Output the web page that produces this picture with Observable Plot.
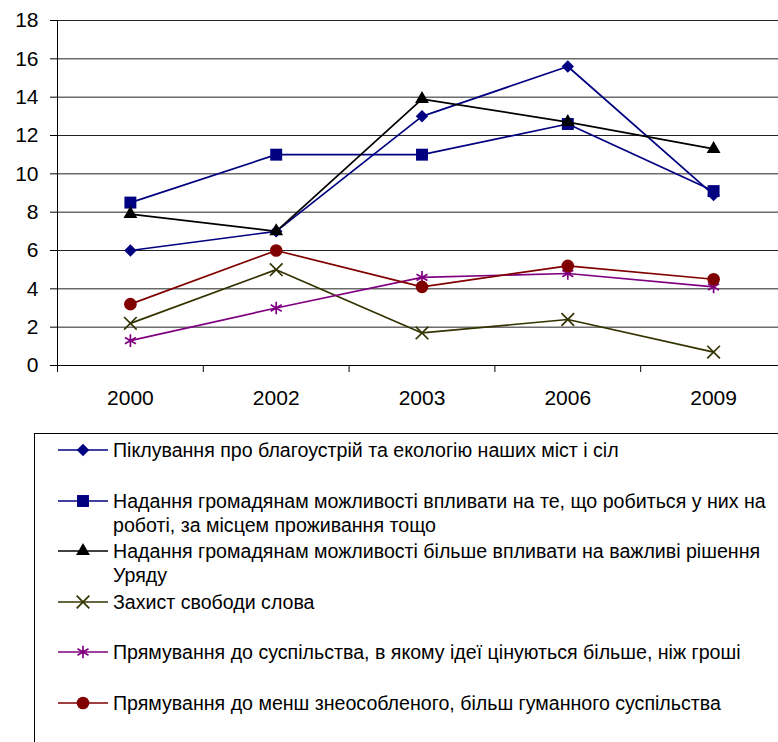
<!DOCTYPE html>
<html><head><meta charset="utf-8">
<script src="https://cdn.jsdelivr.net/npm/d3@7"></script>
<script src="https://cdn.jsdelivr.net/npm/@observablehq/plot@0.6"></script>
<style>
html,body{margin:0;padding:0;background:#fff;overflow:hidden;}
#wrap{position:relative;width:778px;height:742px;overflow:hidden;font-family:"Liberation Sans",Arial,sans-serif;}
#chart{position:absolute;left:0;top:0;}
#legend{position:absolute;left:34px;top:433px;width:820px;height:400px;border:1px solid #000;box-sizing:border-box;padding-top:4px;}
.item{display:flex;align-items:flex-start;height:50.6px;}
.sym{flex:0 0 auto;margin-left:23px;margin-right:5px;}
.txt{font-size:19.6px;line-height:24px;color:#000;white-space:nowrap;}
</style>
</head><body>
<div id="wrap"><div id="chart"></div><div id="legend"></div></div>
<script>
const years = ["2000", "2002", "2003", "2006", "2009"];
const yTicks = [0, 2, 4, 6, 8, 10, 12, 14, 16, 18];

const s1 = [6.0, 7.0, 13.0, 15.6, 8.9];
const s2 = [8.5, 11.0, 11.0, 12.6, 9.1];
const s3 = [7.9, 7.0, 13.9, 12.7, 11.3];
const s4 = [2.2, 5.0, 1.7, 2.4, 0.7];
const s5 = [1.3, 3.0, 4.6, 4.8, 4.1];
const s6 = [3.2, 6.0, 4.1, 5.2, 4.5];

const seriesNames = [
  ["Піклування про благоустрій та екологію наших міст і сіл"],
  ["Надання громадянам можливості впливати на те, що робиться у них на", "роботі, за місцем проживання тощо"],
  ["Надання громадянам можливості більше впливати на важливі рішення", "Уряду"],
  ["Захист свободи слова"],
  ["Прямування до суспільства, в якому ідеї цінуються більше, ніж гроші"],
  ["Прямування до менш знеособленого, більш гуманного суспільства"]
];
const seriesValues = [s1, s2, s3, s4, s5, s6];
const colors = ["#000080", "#000080", "#000000", "#333300", "#800080", "#800000"];
const symbols = ["diamond2", "square2", "triangle2", "times", "asterisk", "circle"];
const d3symbols = [d3.symbolDiamond2, d3.symbolSquare2, d3.symbolTriangle2, d3.symbolTimes, d3.symbolAsterisk, d3.symbolCircle];
const radii = [5.6, 7.6, 6.6, 5.8, 6.0, 6.3];
const filled = [true, true, true, false, false, true];

const idx = d3.range(years.length);
const boundaries = d3.range(years.length + 1).map(i => i - 0.5);

const seriesMarks = seriesValues.flatMap((vals, s) => {
  const rows = vals.map((v, j) => ({x: j, y: v}));
  return [
    Plot.line(rows, {x: "x", y: "y", stroke: colors[s], strokeWidth: 1.7}),
    Plot.dot(rows, {
      x: "x", y: "y", symbol: () => symbols[s], r: radii[s],
      fill: filled[s] ? colors[s] : "none",
      stroke: colors[s], strokeWidth: filled[s] ? 0 : 1.7
    })
  ];
});

const chart = Plot.plot({
  width: 778,
  height: 425,
  marginLeft: 57,
  marginRight: 0,
  marginTop: 20,
  marginBottom: 60,
  x: {type: "linear", domain: [-0.5, years.length - 0.5], range: [57, 786]},
  y: {domain: [0, 18], range: [365, 20]},
  symbol: {type: "identity"},
  style: {fontFamily: "'Liberation Sans', Arial, sans-serif", fontSize: "21px", color: "#000", background: "transparent", overflow: "visible"},
  marks: [
    Plot.ruleY(yTicks.filter(v => v > 0), {stroke: "#222", strokeWidth: 1}),
    Plot.ruleY([0], {stroke: "#000", strokeWidth: 1}),
    Plot.ruleX([boundaries[0]], {y1: 0, y2: 18, stroke: "#000", strokeWidth: 1}),
    Plot.axisY({ticks: yTicks, tickSize: 7, tickPadding: 12, tickFormat: d => String(d), fontSize: 21, label: null, stroke: "#000"}),
    Plot.axisX({ticks: boundaries, tickSize: 7, tickFormat: () => "", label: null, stroke: "#000"}),
    Plot.axisX({ticks: idx, tickSize: 0, tickPadding: 25, tickFormat: i => years[i], fontSize: 21, label: null}),
    ...seriesMarks
  ]
});
document.getElementById("chart").appendChild(chart);

const legend = d3.select("#legend");
seriesNames.forEach((lines, s) => {
  const item = legend.append("div").attr("class", "item");
  const svg = item.append("svg").attr("class", "sym").attr("width", 50).attr("height", 24);
  svg.append("line").attr("x1", 0).attr("x2", 50).attr("y1", 12).attr("y2", 12)
    .attr("stroke", colors[s]).attr("stroke-width", 1.7);
  svg.append("path")
    .attr("transform", "translate(25,12)")
    .attr("d", d3.symbol(d3symbols[s], Math.PI * radii[s] * radii[s])())
    .attr("fill", filled[s] ? colors[s] : "none")
    .attr("stroke", filled[s] ? "none" : colors[s])
    .attr("stroke-width", 1.7);
  const txt = item.append("div").attr("class", "txt");
  lines.forEach((l, k) => { if (k) txt.append("br"); txt.append("span").text(l); });
});
</script>
</body></html>
